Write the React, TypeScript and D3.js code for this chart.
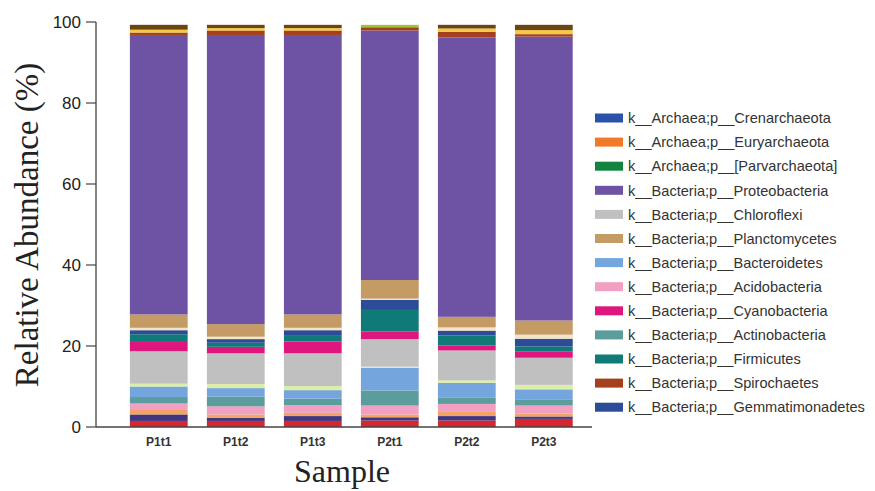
import React from "react";
import * as d3 from "d3";

const samples = ["P1t1", "P1t2", "P1t3", "P2t1", "P2t2", "P2t3"];

// stack order, bottom to top
const seriesKeys = [
  "red", "navy2", "orange2", "Acidobacteria", "Actinobacteria", "Bacteroidetes", "lightgreen",
  "Chloroflexi", "Cyanobacteria", "Firmicutes", "Gemmatimonadetes", "cream", "Planctomycetes",
  "Proteobacteria", "Spirochaetes", "yellow", "darkbrown", "lime",
];
const seriesColors = [
  "#d8262e", "#41357f", "#f3a464", "#f19fc2", "#5b9c9c", "#74a6dd", "#dcefa6",
  "#c0c0c0", "#e0167f", "#0f7a77", "#2c4c97", "#f2e4c4", "#c49a65",
  "#6e52a3", "#a4401d", "#f6c843", "#6a4712", "#9cc43c",
];

const red = [1.5, 1.5, 1.5, 1.6, 1.6, 2.0];
const navy2 = [1.6, 0.8, 1.2, 0.8, 1.1, 0.6];
const orange2 = [1.1, 0.8, 0.8, 0.7, 1.2, 0.7];
const acido = [1.6, 2.0, 1.9, 2.2, 1.8, 2.0];
const actino = [1.6, 2.4, 1.6, 3.7, 1.5, 1.4];
const bactero = [2.6, 2.1, 2.1, 5.6, 3.7, 2.6];
const lightgreen = [0.7, 1.0, 1.0, 0.3, 0.6, 1.1];
const chloro = [8.0, 7.6, 8.1, 6.8, 7.4, 6.7];
const cyano = [2.3, 1.6, 2.9, 1.9, 1.2, 1.6];
const firmi = [1.9, 1.0, 1.6, 5.3, 2.5, 1.2];
const gemma = [1.0, 0.9, 1.2, 2.5, 1.2, 1.9];
const cream = [0.6, 0.6, 0.6, 0.3, 0.8, 1.0];
const plancto = [3.3, 3.1, 3.3, 4.6, 2.6, 3.5];
const proteo = [69.0, 71.4, 69.0, 61.6, 69.0, 70.1];
const spiro = [0.6, 1.1, 1.1, 0.8, 1.4, 0.6];
const yellow = [0.7, 0.6, 0.6, 0.0, 0.8, 1.0];
const darkbrown = [1.2, 0.8, 0.8, 0.0, 0.9, 1.3];
const lime = [0.0, 0.0, 0.0, 0.6, 0.0, 0.0];

const seriesValues = [
  red, navy2, orange2, acido, actino, bactero, lightgreen, chloro, cyano, firmi, gemma,
  cream, plancto, proteo, spiro, yellow, darkbrown, lime,
];

const legendLabels = [
  "k__Archaea;p__Crenarchaeota",
  "k__Archaea;p__Euryarchaeota",
  "k__Archaea;p__[Parvarchaeota]",
  "k__Bacteria;p__Proteobacteria",
  "k__Bacteria;p__Chloroflexi",
  "k__Bacteria;p__Planctomycetes",
  "k__Bacteria;p__Bacteroidetes",
  "k__Bacteria;p__Acidobacteria",
  "k__Bacteria;p__Cyanobacteria",
  "k__Bacteria;p__Actinobacteria",
  "k__Bacteria;p__Firmicutes",
  "k__Bacteria;p__Spirochaetes",
  "k__Bacteria;p__Gemmatimonadetes",
];
const legendColors = [
  "#2a52a8", "#f07a2a", "#13843f", "#6e52a3", "#c0c0c0", "#c49a65", "#74a6dd",
  "#f19fc2", "#e0167f", "#5b9c9c", "#0f7a77", "#a4401d", "#2c4c97",
];

const yTicks = [0, 20, 40, 60, 80, 100];

export default function App() {
  const W = 875, H = 491;
  const x0 = 96, y0 = 427, yTop = 22;
  const x = d3.scaleBand<string>().domain(samples).range([96, 606.6]).paddingInner(0.25).paddingOuter(0.44);
  const y = d3.scaleLinear().domain([0, 100]).range([y0, yTop]);

  const rows = samples.map((s, i) => {
    const r: any = { sample: s };
    seriesKeys.forEach((k, j) => (r[k] = seriesValues[j][i]));
    return r;
  });
  const stacked = d3.stack<any>().keys(seriesKeys)(rows);

  return (
    <svg width={W} height={H} style={{ position: "absolute", left: 0, top: 0 }}>
      <rect width={W} height={H} fill="#fff" />
      {stacked.map((layer, j) => (
        <g key={seriesKeys[j]} fill={seriesColors[j]}>
          {layer.map((d, i) =>
            d[1] - d[0] > 0 ? (
              <rect key={i} x={x(samples[i])} width={x.bandwidth()} y={y(d[1])} height={y(d[0]) - y(d[1])} />
            ) : null
          )}
        </g>
      ))}
      {/* axes */}
      <line x1={x0} x2={x0} y1={y(100)} y2={y0} stroke="#444" strokeWidth={1.3} />
      <line x1={x0} x2={592} y1={y0} y2={y0} stroke="#444" strokeWidth={1.3} />
      {yTicks.map((t) => (
        <g key={t}>
          <line x1={86} x2={x0} y1={y(t)} y2={y(t)} stroke="#444" strokeWidth={1.2} />
          <text x={81} y={y(t)} dy="0.36em" textAnchor="end" fontFamily="Liberation Sans, Arial, sans-serif" fontSize={17} fill="#222">
            {t}
          </text>
        </g>
      ))}
      {samples.map((s) => (
        <text key={s} x={(x(s) as number) + x.bandwidth() / 2} y={446} textAnchor="middle" fontFamily="Liberation Sans, Arial, sans-serif" fontSize={12} fontWeight="bold" fill="#333">
          {s}
        </text>
      ))}
      <text transform={`translate(38,225) rotate(-90)`} textAnchor="middle" fontFamily="Liberation Serif, Times New Roman, serif" fontSize={33} fill="#222">
        Relative Abundance (%)
      </text>
      <text x={342} y={482} textAnchor="middle" fontFamily="Liberation Serif, Times New Roman, serif" fontSize={32} fill="#222">
        Sample
      </text>
      {legendLabels.map((l, i) => {
        const cy = 118 + i * 24.1;
        return (
          <g key={l}>
            <rect x={595} y={cy - 4.5} width={28} height={9} fill={legendColors[i]} />
            <text x={628} y={cy} dy="0.36em" fontFamily="Liberation Sans, Arial, sans-serif" fontSize={14.6} fill="#333">
              {l}
            </text>
          </g>
        );
      })}
    </svg>
  );
}
